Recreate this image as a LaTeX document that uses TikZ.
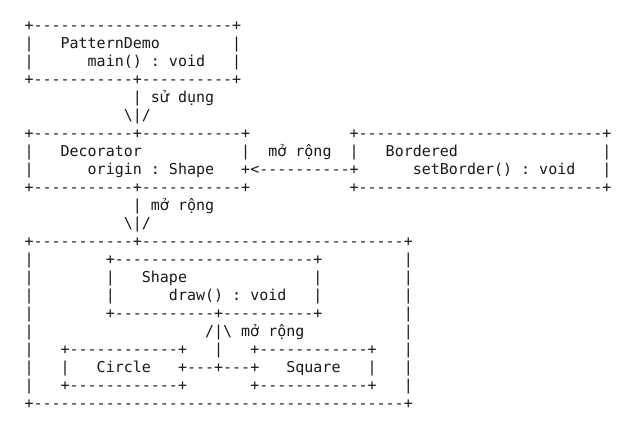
\documentclass[tikz,border=0pt]{standalone}
\usepackage{fontspec}
\setmonofont{DejaVu Sans Mono}
\newfontfamily\vnfont{DejaVu Sans}
\newcommand{\vnch}[1]{\makebox[0.602em][c]{\vnfont #1}}
\newcommand{\su}{s\vnch{ử}}
\newcommand{\mo}{m\vnch{ở}}
\begin{document}
\begin{tikzpicture}[x=1pt,y=1pt,
  ln/.style={anchor=base west, inner sep=0pt, outer sep=0pt, text=black!90,
    font=\ttfamily\fontsize{15}{18}\selectfont}]
\fill[white] (0,0) rectangle (636,-431);
\useasboundingbox (0,0) rectangle (636,-431);
\def\lx{24.5}
\node[ln] (l1)  at (\lx,-30)  {+----------------------+};
\node[ln] (l2)  at (\lx,-48)  {|~~~PatternDemo~~~~~~~~|};
\node[ln] (l3)  at (\lx,-66)  {|~~~~~~main()~:~void~~~|};
\node[ln] (l4)  at (\lx,-84)  {+-----------+----------+};
\node[ln] (l5)  at (\lx,-102) {~~~~~~~~~~~~|~\su{}~dụng};
\node[ln] (l6)  at (\lx,-120) {~~~~~~~~~~~\textbackslash|/};
\node[ln] (l7)  at (\lx,-138) {+-----------+-----------+~~~~~~~~~~~+---------------------------+};
\node[ln] (l8)  at (\lx,-156) {|~~~Decorator~~~~~~~~~~~|~~\mo{}~rộng~~|~~~Bordered~~~~~~~~~~~~~~~~|};
\node[ln] (l9)  at (\lx,-174) {|~~~~~~origin~:~Shape~~~+<----------+~~~~~~setBorder()~:~void~~~|};
\node[ln] (l10) at (\lx,-192) {+-----------+-----------+~~~~~~~~~~~+---------------------------+};
\node[ln] (l11) at (\lx,-210) {~~~~~~~~~~~~|~\mo{}~rộng};
\node[ln] (l12) at (\lx,-228) {~~~~~~~~~~~\textbackslash|/};
\node[ln] (l13) at (\lx,-246) {+-----------+-----------------------------+};
\node[ln] (l14) at (\lx,-264) {|~~~~~~~~+----------------------+~~~~~~~~~|};
\node[ln] (l15) at (\lx,-282) {|~~~~~~~~|~~~Shape~~~~~~~~~~~~~~|~~~~~~~~~|};
\node[ln] (l16) at (\lx,-300) {|~~~~~~~~|~~~~~~draw()~:~void~~~|~~~~~~~~~|};
\node[ln] (l17) at (\lx,-318) {|~~~~~~~~+-----------+----------+~~~~~~~~~|};
\node[ln] (l18) at (\lx,-336) {|~~~~~~~~~~~~~~~~~~~/|\textbackslash{}~\mo{}~rộng~~~~~~~~~~~|};
\node[ln] (l19) at (\lx,-354) {|~~~+------------+~~~|~~~+------------+~~~|};
\node[ln] (l20) at (\lx,-372) {|~~~|~~~Circle~~~+---+---+~~~Square~~~|~~~|};
\node[ln] (l21) at (\lx,-390) {|~~~+------------+~~~~~~~+------------+~~~|};
\node[ln] (l22) at (\lx,-408) {+-----------------------------------------+};
\end{tikzpicture}
\end{document}
